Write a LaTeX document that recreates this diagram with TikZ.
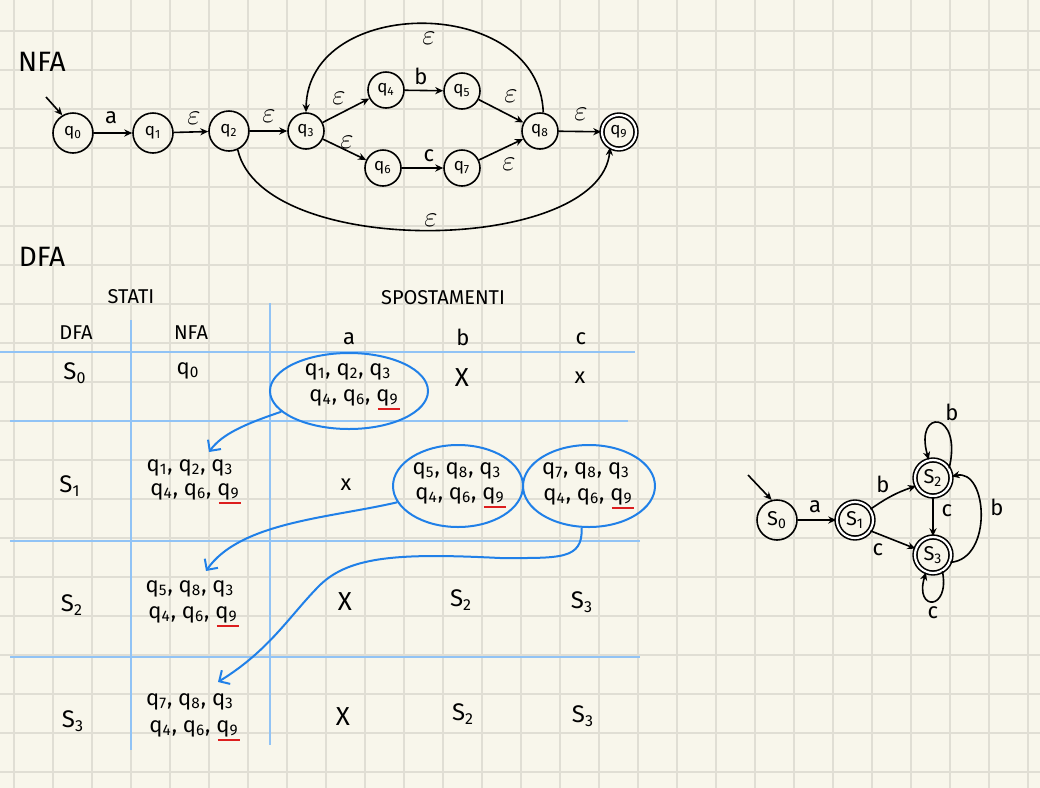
\documentclass[tikz,border=0pt]{standalone}
\usepackage{fontspec}
\setmainfont{Fira Sans}
\usetikzlibrary{arrows.meta,shapes.geometric}
\definecolor{paper}{RGB}{248,246,235}
\definecolor{gridc}{RGB}{224,222,212}
\definecolor{tblue}{RGB}{145,195,245}
\definecolor{iblue}{RGB}{32,128,232}
\definecolor{ured}{RGB}{220,30,30}
\begin{document}
\begin{tikzpicture}[x=0.5pt,y=-0.5pt,
  ink/.style={line width=0.8pt,draw=black},
  arr/.style={ink,-{Stealth[length=4pt,width=3.6pt]}},
  st/.style={circle,draw,line width=0.8pt,inner sep=0pt,minimum size=18pt,font=\fontsize{8.5}{9}\selectfont},
  stbig/.style={st,minimum size=20pt},
  acc/.style={st,double,double distance=1.1pt,minimum size=17pt},
  dst/.style={st,minimum size=20pt,font=\fontsize{10}{10}\selectfont},
  dacc/.style={dst,double,double distance=1.1pt,minimum size=18pt},
  eps/.style={inner sep=0pt,font=\fontsize{15}{15}\selectfont},
  lbl/.style={inner sep=0pt,font=\fontsize{11}{11}\selectfont},
  title/.style={inner sep=0pt,font=\fontsize{14}{14}\selectfont},
  hdr/.style={inner sep=0pt,font=\fontsize{10}{10}\selectfont},
  cell/.style={inner sep=0pt,font=\fontsize{11}{11}\selectfont},
  rowl/.style={inner sep=0pt,font=\fontsize{12}{12}\selectfont},
  crossl/.style={inner sep=0pt,font=\fontsize{13}{13}\selectfont},
  crosss/.style={inner sep=0pt,font=\fontsize{11}{11}\selectfont},
  tline/.style={draw=tblue,line width=1.3pt},
  bell/.style={ellipse,draw=iblue,line width=1pt,inner sep=0pt},
  barr/.style={draw=iblue,line width=1pt,-{Straight Barb[length=4pt,width=8pt]}},
  uline/.style={draw=ured,line width=1pt},
  gridl/.style={draw=gridc,line width=1pt}]
\useasboundingbox (0,0) rectangle (1040,788);
\fill[paper] (0,0) rectangle (1040,788);
% grid
\foreach \i in {0,...,26} \draw[gridl] (14+39*\i,0) -- (14+39*\i,788);
\foreach \j in {0,...,19} \draw[gridl] (0,31+39*\j) -- (1040,31+39*\j);

% ---------------- NFA ----------------
\node[title] (tnfa) at (42,62) {NFA};
\node[stbig] (q0) at (73,133) {q\textsubscript{0}};
\node[stbig] (q1) at (153,133) {q\textsubscript{1}};
\node[stbig] (q2) at (229,131) {q\textsubscript{2}};
\node[st] (q3) at (306,131) {q\textsubscript{3}};
\node[st] (q4) at (386,90) {q\textsubscript{4}};
\node[st] (q5) at (462,91) {q\textsubscript{5}};
\node[st] (q6) at (383,168) {q\textsubscript{6}};
\node[st] (q7) at (462,168) {q\textsubscript{7}};
\node[st] (q8) at (540,131) {q\textsubscript{8}};
\node[acc] (q9) at (619,132) {q\textsubscript{9}};
\coordinate (st0) at (46,97);
\draw[arr] (st0) -- (q0.121);
\draw[arr] (q0) -- (q1);
\draw[arr] (q1) -- (q2);
\draw[arr] (q2) -- (q3);
\draw[arr] (q3) -- (q4);
\draw[arr] (q3) -- (q6);
\draw[arr] (q4) -- (q5);
\draw[arr] (q6) -- (q7);
\draw[arr] (q5) -- (q8);
\draw[arr] (q7) -- (q8);
\draw[arr] (q8) -- (q9);
\draw[arr] (q8.80) .. controls +(-4,-118) and +(2,-118) .. (q3.north);
\draw[arr] (q2.-65) .. controls +(25,110) and +(-10,107) .. (q9.-120);
\node[lbl] (la) at (111,118) {a};
\node[eps] (e12) at (194,118) {$\varepsilon$};
\node[eps] (e23) at (269,116) {$\varepsilon$};
\node[eps] (e34) at (339,98) {$\varepsilon$};
\node[eps] (e36) at (347,142) {$\varepsilon$};
\node[lbl] (lb) at (421,76) {b};
\node[lbl] (lc) at (429,156) {c};
\node[eps] (e58) at (511,96) {$\varepsilon$};
\node[eps] (e78) at (509,164) {$\varepsilon$};
\node[eps] (e89) at (581,114) {$\varepsilon$};
\node[eps] (etop) at (429,38) {$\varepsilon$};
\node[eps] (ebot) at (431,220) {$\varepsilon$};

% ---------------- DFA table ----------------
\node[title] (tdfa) at (42,257) {DFA};
\node[hdr] (stati) at (131,297) {STATI};
\node[hdr] (spost) at (443,298) {SPOSTAMENTI};
\node[hdr] (hdfa) at (76,333) {DFA};
\node[hdr] (hnfa) at (191,333) {NFA};
\node[lbl] (ha) at (349,339) {a};
\node[lbl] (hb) at (463,337) {b};
\node[lbl] (hc) at (581,339) {c};

\draw[tline] (0,352) -- (635,352);
\draw[tline] (10,421) -- (628,421);
\draw[tline] (10,541) -- (640,541);
\draw[tline] (10,657) -- (640,657);
\draw[tline] (131,320) -- (131,750);
\draw[tline] (270,303) -- (270,745);

\node[rowl] (r0) at (75,373) {S\textsubscript{0}};
\node[rowl] (r1) at (70,486) {S\textsubscript{1}};
\node[rowl] (r2) at (72,605) {S\textsubscript{2}};
\node[rowl] (r3) at (73,721) {S\textsubscript{3}};

% NFA column
\node[cell] (n0) at (188,371) {q\textsubscript{0}};
\node[cell] (n1a) at (190,468) {q\textsubscript{1}, q\textsubscript{2}, q\textsubscript{3}};
\node[cell] (n1b) at (195,492) {q\textsubscript{4}, q\textsubscript{6}, q\textsubscript{9}};
\node[cell] (n2a) at (190,589) {q\textsubscript{5}, q\textsubscript{8}, q\textsubscript{3}};
\node[cell] (n2b) at (193,615) {q\textsubscript{4}, q\textsubscript{6}, q\textsubscript{9}};
\node[cell] (n3a) at (190,702) {q\textsubscript{7}, q\textsubscript{8}, q\textsubscript{3}};
\node[cell] (n3b) at (194,729) {q\textsubscript{4}, q\textsubscript{6}, q\textsubscript{9}};

% row S0
\node[bell,minimum width=79pt,minimum height=38pt] (e0) at (349,391) {};
\node[cell] (c0a) at (348,372) {q\textsubscript{1}, q\textsubscript{2}, q\textsubscript{3}};
\node[cell] (c0b) at (354,398) {q\textsubscript{4}, q\textsubscript{6}, q\textsubscript{9}};
\node[crossl] (x0b) at (462,378) {X};
\node[crosss] (x0c) at (580,378) {x};
% row S1
\node[crosss] (x1a) at (346,485) {x};
\node[bell,minimum width=65pt,minimum height=41pt] (e1) at (458,486) {};
\node[cell] (c1a) at (457,471) {q\textsubscript{5}, q\textsubscript{8}, q\textsubscript{3}};
\node[cell] (c1b) at (460,496) {q\textsubscript{4}, q\textsubscript{6}, q\textsubscript{9}};
\node[bell,minimum width=66pt,minimum height=41pt] (e2) at (589,486) {};
\node[cell] (c2a) at (586,471) {q\textsubscript{7}, q\textsubscript{8}, q\textsubscript{3}};
\node[cell] (c2b) at (588,497) {q\textsubscript{4}, q\textsubscript{6}, q\textsubscript{9}};
% row S2
\node[crossl] (x2a) at (345,602) {X};
\node[rowl] (t2b) at (461,600) {S\textsubscript{2}};
\node[rowl] (t2c) at (582,602) {S\textsubscript{3}};
% row S3
\node[crossl] (x3a) at (343,717) {X};
\node[rowl] (t3b) at (463,714) {S\textsubscript{2}};
\node[rowl] (t3c) at (583,716) {S\textsubscript{3}};

% red underlines under q9
\foreach \n in {c0b,n1b,c1b,c2b,n2b,n3b}
  \draw[uline] ([xshift=-10.5pt,yshift=-1pt]\n.south east) -- ([xshift=0.5pt,yshift=-1pt]\n.south east);

% blue arrows
\coordinate (a1) at (209,452);
\coordinate (a2) at (206,571);
\coordinate (a3) at (218,682);
\draw[barr] (e0.197) .. controls (245,424) and (222,434) .. (a1);
\draw[barr] (e1.195) .. controls (330,518) and (240,522) .. (a2);
\draw[barr] (e2.-100) .. controls (583,560) and (560,558) .. (500,558)
   .. controls (400,553) and (350,556) .. (320,585)
   .. controls (290,615) and (270,650) .. (a3);

% ---------------- DFA diagram ----------------
\node[dst] (s0) at (777,520) {S\textsubscript{0}};
\node[dacc] (s1) at (855,520) {S\textsubscript{1}};
\node[dacc] (s2) at (933,478) {S\textsubscript{2}};
\node[dacc] (s3) at (933,555) {S\textsubscript{3}};
\coordinate (sts) at (748,475);
\draw[arr] (sts) -- (s0.105);
\draw[arr] (s0) -- (s1);
\draw[arr] (s1.35) to[bend left=8] (s2.205);
\draw[arr] (s1.-35) -- (s3.160);
\draw[arr] (s2) -- (s3);
\draw[arr] (s3.-23) .. controls +(43,-3) and +(36,-8) .. (s2.5);
\draw[arr] (s2.31) .. controls +(14,-58) and +(-15,-52) .. (s2.103);
\draw[arr] (s3.-60) .. controls +(8,40) and +(-12,39) .. (s3.-112);
\node[lbl] (da) at (815,507) {a};
\node[lbl] (db) at (883,484) {b};
\node[lbl] (dc) at (878,550) {c};
\node[lbl] (dc2) at (947,511) {c};
\node[lbl] (db2) at (997,507) {b};
\node[lbl] (db3) at (952,412) {b};
\node[lbl] (dc3) at (933,613) {c};
\end{tikzpicture}
\end{document}
